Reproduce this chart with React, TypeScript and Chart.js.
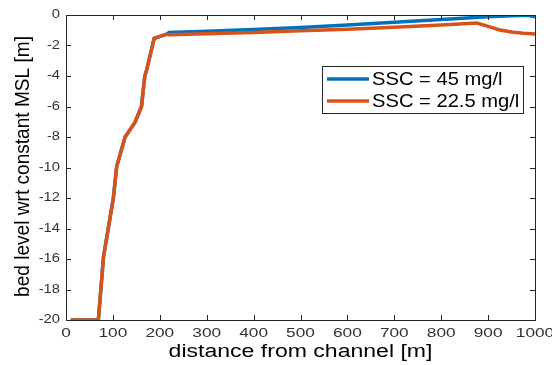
import React, { useEffect, useRef } from "react";
import { Chart, registerables } from "chart.js";

Chart.register(...registerables);

const seriesLabels = ["SSC = 45 mg/l", "SSC = 22.5 mg/l"];
const seriesColors = ["#0072BD", "#D95319"];
const xTitle = "distance from channel [m]";
const yTitle = "bed level wrt constant MSL [m]";

// shared channel-side profile (x in m, bed level in m)
const sideX = [10, 69, 80, 101, 108, 126, 147, 161, 168, 172, 188, 215];
const sideY = [-20, -20, -15.85, -12.0, -9.95, -8.0, -7.05, -6.0, -4.0, -3.6, -1.53, -1.25];

const blueX = [220, 300, 400, 500, 600, 700, 800, 900, 950, 985, 1000];
const blueY = [-1.15, -1.07, -0.95, -0.82, -0.66, -0.48, -0.3, -0.12, -0.05, -0.02, -0.12];

const orangeX = [220, 300, 400, 500, 600, 700, 800, 876, 900, 925, 950, 975, 1000];
const orangeY = [-1.3, -1.23, -1.14, -1.03, -0.93, -0.8, -0.66, -0.53, -0.75, -0.98, -1.12, -1.19, -1.24];

const xTicks = [0, 100, 200, 300, 400, 500, 600, 700, 800, 900, 1000];
const yTicks = [0, -2, -4, -6, -8, -10, -12, -14, -16, -18, -20];

const FONT = "'Liberation Sans', Arial, Helvetica, sans-serif";

const toPts = (xs: number[], ys: number[]) => xs.map((x, i) => ({ x, y: ys[i] }));

function stretchedText(ctx: any, text: string, x: number, y: number, sx: number, align: string) {
  ctx.save();
  ctx.translate(x, y);
  ctx.scale(sx, 1);
  ctx.textAlign = align;
  ctx.fillText(text, 0, 0);
  ctx.restore();
}

const decorPlugin = {
  id: "decor",
  afterDatasetsDraw(chart: any) {
    const { ctx, chartArea: a, scales } = chart;
    ctx.save();
    ctx.strokeStyle = "#262626";
    ctx.lineWidth = 1;
    ctx.strokeRect(a.left + 0.5, a.top + 0.5, a.right - a.left, a.bottom - a.top);
    const tl = 5;
    ctx.beginPath();
    xTicks.forEach((v) => {
      const px = Math.round(scales.x.getPixelForValue(v)) + 0.5;
      ctx.moveTo(px, a.bottom);
      ctx.lineTo(px, a.bottom - tl);
      ctx.moveTo(px, a.top);
      ctx.lineTo(px, a.top + tl);
    });
    yTicks.forEach((v) => {
      const py = Math.round(scales.y.getPixelForValue(v)) + 0.5;
      ctx.moveTo(a.left, py);
      ctx.lineTo(a.left + tl, py);
      ctx.moveTo(a.right, py);
      ctx.lineTo(a.right - tl, py);
    });
    ctx.stroke();

    // tick labels
    ctx.fillStyle = "#333";
    ctx.font = `12.5px ${FONT}`;
    ctx.textBaseline = "middle";
    xTicks.forEach((v) => {
      const px = scales.x.getPixelForValue(v);
      stretchedText(ctx, String(v), px, a.bottom + 14, 1.38, "center");
    });
    yTicks.forEach((v) => {
      const py = scales.y.getPixelForValue(v);
      stretchedText(ctx, String(v), a.left - 6, py, 1.18, "right");
    });

    // axis titles
    ctx.fillStyle = "#000";
    ctx.font = `18px ${FONT}`;
    ctx.textBaseline = "middle";
    stretchedText(ctx, xTitle, (a.left + a.right) / 2, 352, 1.28, "center");
    ctx.save();
    ctx.translate(24, 166.5);
    ctx.rotate(-Math.PI / 2);
    ctx.scale(1.06, 1.1);
    ctx.textAlign = "center";
    ctx.font = `18px ${FONT}`;
    ctx.fillText(yTitle, 0, 0);
    ctx.restore();

    // legend
    const lx = 322, ly = 66, lw = 201, lh = 47;
    ctx.fillStyle = "#ffffff";
    ctx.fillRect(lx, ly, lw, lh);
    ctx.strokeStyle = "#262626";
    ctx.lineWidth = 1;
    ctx.strokeRect(lx + 0.5, ly + 0.5, lw, lh);
    ctx.font = `18px ${FONT}`;
    ctx.textBaseline = "middle";
    [0, 1].forEach((i) => {
      const ds = chart.data.datasets[i];
      const yy = ly + 13 + i * 22;
      ctx.strokeStyle = ds.borderColor;
      ctx.lineWidth = 3.5;
      ctx.beginPath();
      ctx.moveTo(lx + 5, yy);
      ctx.lineTo(lx + 47, yy);
      ctx.stroke();
      ctx.fillStyle = "#000";
      stretchedText(ctx, ds.label, lx + 50, yy + 1, 1.12, "left");
    });
    ctx.restore();
  },
};

export default function App() {
  const ref = useRef<HTMLCanvasElement | null>(null);
  useEffect(() => {
    if (!ref.current) return;
    const chart = new Chart(ref.current, {
      type: "line",
      data: {
        datasets: [
          {
            label: seriesLabels[0],
            data: toPts(sideX.concat(blueX), sideY.concat(blueY)),
            borderColor: seriesColors[0],
            borderWidth: 3.5,
            pointRadius: 0,
            tension: 0,
            order: 1,
          },
          {
            label: seriesLabels[1],
            data: toPts(sideX.concat(orangeX), sideY.concat(orangeY)),
            borderColor: seriesColors[1],
            borderWidth: 3.5,
            pointRadius: 0,
            tension: 0,
            order: 0,
          },
        ],
      },
      options: {
        animation: false,
        responsive: false,
        layout: { padding: { left: 66, right: 17, top: 15, bottom: 45 } },
        plugins: { legend: { display: false }, tooltip: { enabled: false } },
        scales: {
          x: {
            type: "linear",
            min: 0,
            max: 1000,
            grid: { display: false, drawTicks: false },
            border: { display: false },
            ticks: { display: false },
            afterFit: (s: any) => { s.height = 0; },
          },
          y: {
            type: "linear",
            min: -20,
            max: 0,
            grid: { display: false, drawTicks: false },
            border: { display: false },
            ticks: { display: false },
            afterFit: (s: any) => { s.width = 0; },
          },
        },
      },
      plugins: [decorPlugin],
    });
    return () => chart.destroy();
  }, []);
  return (
    <div style={{ position: "fixed", left: 0, top: 0, width: 552, height: 365, background: "#fff" }}>
      <canvas ref={ref} width={552} height={365} style={{ display: "block" }} />
    </div>
  );
}
